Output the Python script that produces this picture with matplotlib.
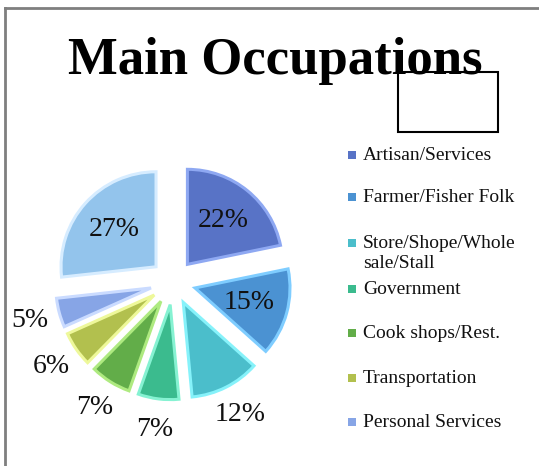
import numpy as np
import matplotlib
matplotlib.use("Agg")
import matplotlib.pyplot as plt
from matplotlib.patches import Rectangle
from matplotlib.lines import Line2D

# ---- data ----
categories = ["Artisan/Services", "Farmer/Fisher Folk", "Store/Shope/Whole\nsale/Stall",
              "Government", "Cook shops/Rest.", "Transportation", "Personal Services", ""]
values = [22, 15, 12, 7, 7, 6, 5, 27]
colors = ["#5873c6", "#4b92d2", "#4bbecb", "#3bbb8e", "#62ad49", "#b2c04e", "#87a5e6", "#93c4ec"]
edge_colors = ["#8ea8f2", "#7fcdff", "#86f2fa", "#86f2d2", "#aeea80", "#eef89a", "#cadbff", "#d6ecff"]

W, H = 539, 466
fig = plt.figure(figsize=(W / 100, H / 100), dpi=100)
fig.patch.set_facecolor("white")

# pie axes: center (173, 282) px, radius 95 px
cx, cy, rpx = 173, 282, 95
a = 1.8
size = 2 * a * rpx
ax = fig.add_axes([(cx - size / 2) / W, (H - cy - size / 2) / H, size / W, size / H])

explode = [0.24] * len(values)
wedges, _ = ax.pie(values, colors=colors, explode=explode, startangle=90,
                   counterclock=False, radius=1.0,
                   wedgeprops=dict(edgecolor="none"))
ax.set_xlim(-a, a)
ax.set_ylim(-a, a)
ax.set_aspect("equal")
ax.axis("off")
for w, ec in zip(wedges, edge_colors):
    w.set_edgecolor(ec)
    w.set_linewidth(2.2)

serif = ["Liberation Serif", "DejaVu Serif"]
for w, v in zip(wedges, values):
    mid = np.deg2rad((w.theta1 + w.theta2) / 2)
    x0, y0 = w.center
    d = 0.59 if v >= 15 else 1.32
    ax.text(x0 + d * w.r * np.cos(mid), y0 + d * w.r * np.sin(mid), f"{v}%",
            ha="center", va="center", fontsize=20, family=serif, color="#111111")

# title
fig.text(275 / W, 1 - 61 / H, "Main Occupations", ha="center", va="center",
         fontsize=38, fontweight="bold", family=serif, color="black")

# legend (manual)
leg_y = [155, 197, 243, 289, 333, 378, 422]
for i, (lab, col) in enumerate(zip(categories[:7], colors[:7])):
    y = leg_y[i]
    fig.patches.append(Rectangle(((348) / W, 1 - (y + 4) / H), 8 / W, 8 / H,
                                 transform=fig.transFigure, facecolor=col,
                                 edgecolor="none"))
    fig.text(363 / W, 1 - (y - 8) / H, lab, ha="left", va="top", fontsize=14,
             family=serif, color="#111111", linespacing=1.22)

# frame lines
fig.lines.append(Line2D([5 / W, 5 / W], [0, 1 - 8 / H], transform=fig.transFigure,
                        color="#7f7f7f", linewidth=2))
fig.lines.append(Line2D([5 / W, 1], [1 - 8 / H, 1 - 8 / H], transform=fig.transFigure,
                        color="#7f7f7f", linewidth=2))

# small empty box
fig.patches.append(Rectangle((398 / W, 1 - 132 / H), 100 / W, 60 / H,
                             transform=fig.transFigure, facecolor="none",
                             edgecolor="black", linewidth=1.5, zorder=10))

fig.savefig("out.png", dpi=100)
